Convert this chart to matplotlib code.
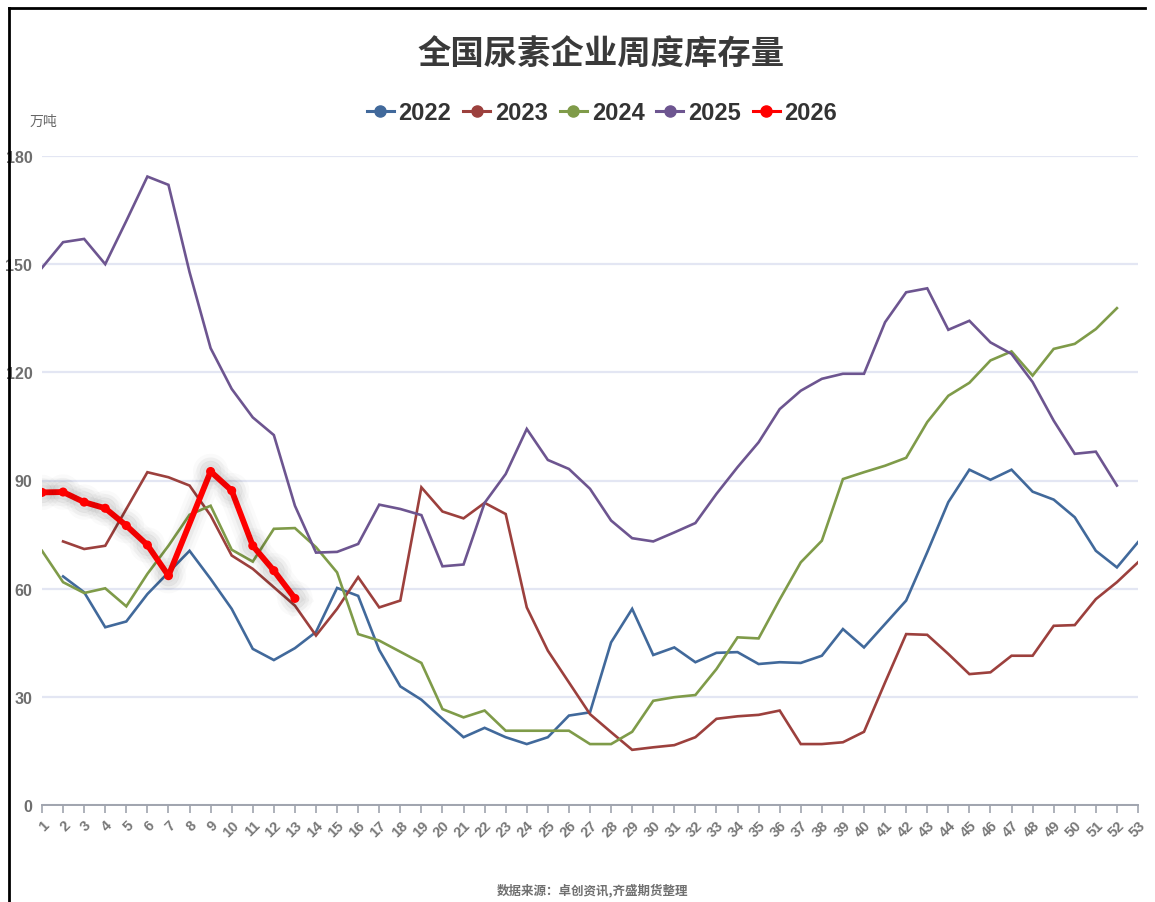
import numpy as np
import matplotlib
matplotlib.use("Agg")
import matplotlib.pyplot as plt
import matplotlib.patheffects as pe
from matplotlib.lines import Line2D

plt.rcParams['font.family'] = ['Noto Sans CJK SC', 'DejaVu Sans']

nan = np.nan
weeks = list(range(1, 54))
week_labels = [str(w) for w in weeks]

y2022 = [nan, 63.4, 59.0, 49.3, 50.9, 58.5, 64.5, 70.5, 62.7, 54.4,
         43.3, 40.2, 43.5, 48.0, 60.2, 58.0, 43.0, 32.9, 29.2, 23.9,
         18.8, 21.4, 18.8, 16.9, 18.8, 24.8, 25.7, 45.1, 54.4, 41.6,
         43.7, 39.6, 42.2, 42.4, 39.1, 39.6, 39.4, 41.4, 48.8, 43.7,
         50.2, 56.7, 70.1, 84.0, 93.0, 90.2, 93.0, 86.9, 84.7, 79.8,
         70.5, 65.9, 72.9]
y2023 = [nan, 73.1, 71.0, 71.9, 82.1, 92.3, 90.9, 88.6, 80.3, 69.2,
         65.5, 60.4, 55.3, 47.0, 54.4, 63.2, 54.8, 56.7, 88.1, 81.4,
         79.5, 83.8, 80.7, 54.8, 42.8, 34.0, 25.2, 20.2, 15.3, 16.0,
         16.6, 18.8, 23.9, 24.6, 25.0, 26.2, 16.9, 16.9, 17.4, 20.3,
         34.0, 47.4, 47.2, 41.9, 36.3, 36.8, 41.4, 41.4, 49.7, 49.9,
         57.1, 61.8, 67.3]
y2024 = [70.5, 61.8, 58.8, 60.1, 55.1, 64.1, 71.9, 80.5, 83.0, 70.8,
         67.5, 76.6, 76.8, 71.5, 64.5, 47.4, 45.6, 42.5, 39.4, 26.6,
         24.3, 26.2, 20.6, 20.6, 20.6, 20.6, 16.9, 16.9, 20.3, 28.9,
         29.9, 30.5, 37.7, 46.5, 46.2, 57.0, 67.3, 73.3, 90.4, 92.3,
         94.1, 96.3, 106.2, 113.5, 117.1, 123.3, 125.8, 119.1, 126.5, 127.9,
         132.0, 137.8, nan]
y2025 = [149.0, 156.1, 157.0, 150.0, 162.0, 174.3, 172.0, 147.8, 126.7, 115.4,
         107.5, 102.6, 83.0, 70.0, 70.2, 72.4, 83.3, 82.1, 80.4, 66.2,
         66.7, 83.8, 91.8, 104.3, 95.7, 93.2, 87.7, 78.9, 74.0, 73.1,
         75.6, 78.2, 86.3, 93.7, 100.6, 109.8, 114.9, 118.2, 119.6, 119.6,
         133.9, 142.2, 143.3, 131.8, 134.3, 128.3, 125.1, 117.3, 106.6, 97.4,
         98.0, 88.6, nan]
weeks2026 = [1, 2, 3, 4, 5, 6, 7, 9, 10, 11, 12, 13]
y2026 = [86.7, 86.8, 84.0, 82.3, 77.5, 72.1, 63.6, 92.5, 87.2, 71.9, 65.0, 57.3]

series_names = ['2022', '2023', '2024', '2025', '2026']
colors = ['#41699B', '#9C403D', '#7F9B49', '#6D5590', '#FF0000']

NUM_FONT = ['Liberation Sans', 'DejaVu Sans']

W, H = 1155, 903
fig = plt.figure(figsize=(W / 100, H / 100), dpi=100)
fig.patch.set_facecolor('white')

L, R, T, B = 42, 1138, 157, 806
ax = fig.add_axes([L / W, 1 - B / H, (R - L) / W, (B - T) / H])
ax.set_xlim(1, 53)
ax.set_ylim(0, 180)
ax.set_facecolor('white')

ax.set_yticks(np.arange(0, 181, 30))
ax.yaxis.grid(True, color='#E3E6F3', lw=1.6)
ax.set_axisbelow(True)
for s in ['top', 'right', 'left']:
    ax.spines[s].set_visible(False)
ax.spines['bottom'].set_color('#A0A4AE')
ax.spines['bottom'].set_linewidth(1.4)
ax.tick_params(axis='y', length=0, pad=7, colors='#6E6E6E', labelsize=11.5)
ax.tick_params(axis='x', length=6, width=1.2, color='#A0A4AE', colors='#777777',
               labelsize=10.5, pad=3)
for lab in ax.get_yticklabels():
    lab.set_family(NUM_FONT)
    lab.set_fontweight('bold')
ax.set_xticks(weeks)
ax.set_xticklabels(week_labels, rotation=45, ha='right', va='top',
                   rotation_mode='anchor', fontweight='bold', family=NUM_FONT)

data = [y2022, y2023, y2024, y2025]
for vals, c in zip(data, colors[:4]):
    ax.plot(weeks, vals, color=c, lw=1.9, solid_joinstyle='miter', zorder=3)

shadow = [pe.Stroke(linewidth=20, foreground='#000000', alpha=0.018),
          pe.Stroke(linewidth=15, foreground='#000000', alpha=0.025),
          pe.Stroke(linewidth=10, foreground='#000000', alpha=0.04),
          pe.Normal()]
ax.plot(weeks2026, y2026, color=colors[4], lw=4.2, marker='o', ms=5.5,
        zorder=5, path_effects=shadow)

# legend
handles = [Line2D([0], [0], color=c, lw=2.2, marker='o', ms=8) for c in colors]
leg = fig.legend(handles, series_names, loc='center', bbox_to_anchor=(602 / W, 1 - 114 / H),
                 ncol=5, frameon=False, handlelength=1.15, handletextpad=0.2,
                 columnspacing=0.5, prop={'family': NUM_FONT, 'weight': 'bold', 'size': 17})
for t in leg.get_texts():
    t.set_color('#333333')

fig.text(601 / W, 1 - 55 / H, '全国尿素企业周度库存量', ha='center', va='center',
         fontsize=24, fontweight='bold', color='#3A3A3A')
fig.text(43 / W, 1 - 122 / H, '万吨', ha='center', va='center', fontsize=10,
         color='#666666')
fig.text(593 / W, 1 - 890 / H, '数据来源：卓创资讯,齐盛期货整理', ha='center', va='center',
         fontsize=9, color='#707070', fontweight='bold')

# screenshot frame
fig.add_artist(Line2D([9 / W, 9 / W], [0, 1 - 9 / H], color='black', lw=2))
fig.add_artist(Line2D([9 / W, 1145 / W], [1 - 9 / H, 1 - 9 / H], color='black', lw=2))

fig.savefig('out.png', dpi=100, facecolor='white')
